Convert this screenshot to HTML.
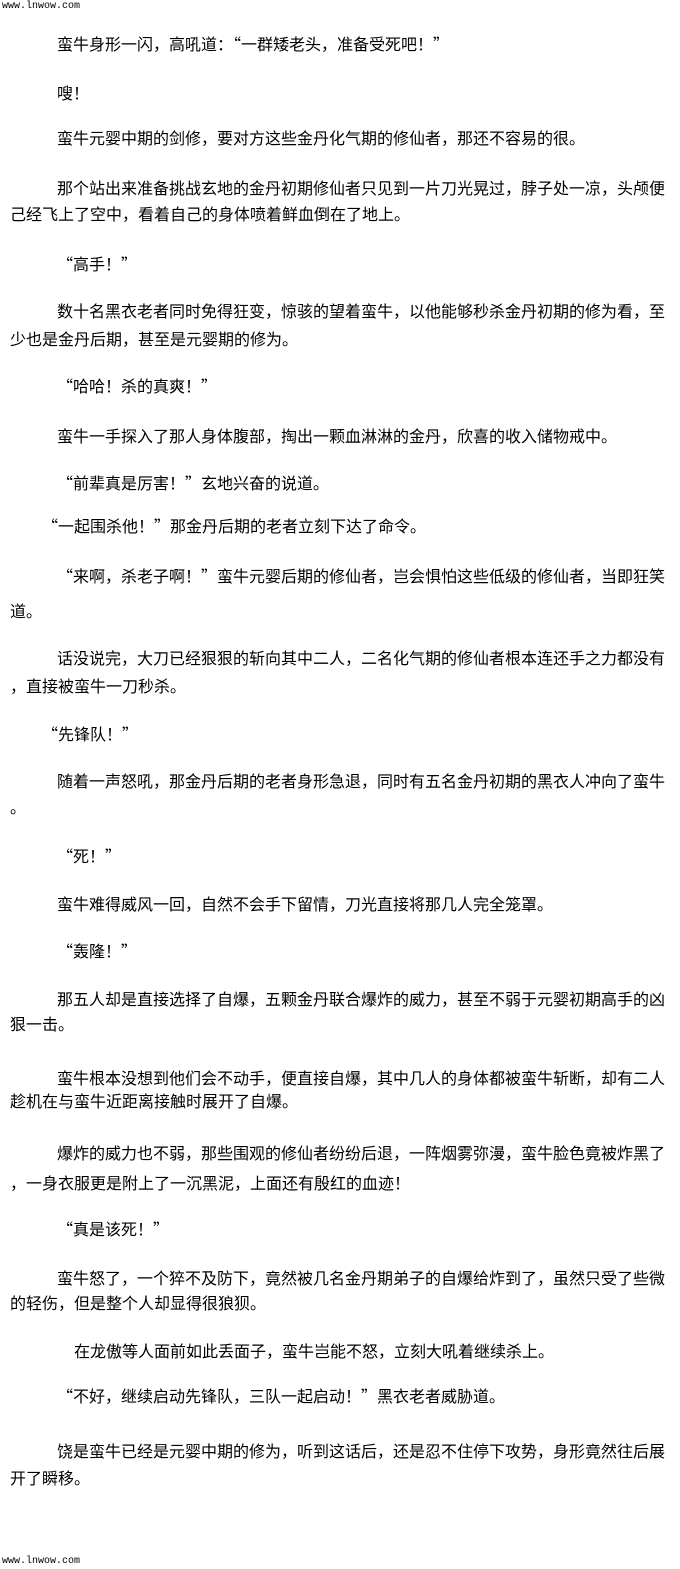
<!DOCTYPE html>
<html><head><meta charset="utf-8"><style>
html,body{margin:0;padding:0;background:#fff;width:680px;height:1569px;overflow:hidden}
body{position:relative;font-family:"Noto Sans CJK SC","WenQuanYi Zen Hei","Liberation Sans",sans-serif;font-size:16px;color:#000}
.l{position:absolute;white-space:nowrap;line-height:18px;height:18px}
.f{position:absolute;left:2px;font-family:"Liberation Mono",monospace;font-size:10px;color:#000;line-height:12px}
</style></head><body>
<div class="f" style="top:1px">www.lnwow.com</div>
<div class="l" style="top:34px;left:57px">蛮牛身形一闪，高吼道：“一群矮老头，准备受死吧！”</div>
<div class="l" style="top:83px;left:57px">嗖！</div>
<div class="l" style="top:128px;left:57px">蛮牛元婴中期的剑修，要对方这些金丹化气期的修仙者，那还不容易的很。</div>
<div class="l" style="top:178px;left:57px">那个站出来准备挑战玄地的金丹初期修仙者只见到一片刀光晃过，脖子处一凉，头颅便</div>
<div class="l" style="top:204px;left:10px">己经飞上了空中，看着自己的身体喷着鲜血倒在了地上。</div>
<div class="l" style="top:254px;left:57px">“高手！”</div>
<div class="l" style="top:301px;left:57px">数十名黑衣老者同时免得狂变，惊骇的望着蛮牛，以他能够秒杀金丹初期的修为看，至</div>
<div class="l" style="top:329px;left:10px">少也是金丹后期，甚至是元婴期的修为。</div>
<div class="l" style="top:376px;left:57px">“哈哈！杀的真爽！”</div>
<div class="l" style="top:426px;left:57px">蛮牛一手探入了那人身体腹部，掏出一颗血淋淋的金丹，欣喜的收入储物戒中。</div>
<div class="l" style="top:473px;left:57px">“前辈真是厉害！”玄地兴奋的说道。</div>
<div class="l" style="top:516px;left:42px">“一起围杀他！”那金丹后期的老者立刻下达了命令。</div>
<div class="l" style="top:566px;left:57px">“来啊，杀老子啊！”蛮牛元婴后期的修仙者，岂会惧怕这些低级的修仙者，当即狂笑</div>
<div class="l" style="top:601px;left:10px">道。</div>
<div class="l" style="top:648px;left:57px">话没说完，大刀已经狠狠的斩向其中二人，二名化气期的修仙者根本连还手之力都没有</div>
<div class="l" style="top:676px;left:10px">，直接被蛮牛一刀秒杀。</div>
<div class="l" style="top:724px;left:42px">“先锋队！”</div>
<div class="l" style="top:771px;left:57px">随着一声怒吼，那金丹后期的老者身形急退，同时有五名金丹初期的黑衣人冲向了蛮牛</div>
<div class="l" style="top:797px;left:10px">。</div>
<div class="l" style="top:846px;left:57px">“死！”</div>
<div class="l" style="top:894px;left:57px">蛮牛难得威风一回，自然不会手下留情，刀光直接将那几人完全笼罩。</div>
<div class="l" style="top:941px;left:57px">“轰隆！”</div>
<div class="l" style="top:989px;left:57px">那五人却是直接选择了自爆，五颗金丹联合爆炸的威力，甚至不弱于元婴初期高手的凶</div>
<div class="l" style="top:1014px;left:10px">狠一击。</div>
<div class="l" style="top:1068px;left:57px">蛮牛根本没想到他们会不动手，便直接自爆，其中几人的身体都被蛮牛斩断，却有二人</div>
<div class="l" style="top:1091px;left:10px">趁机在与蛮牛近距离接触时展开了自爆。</div>
<div class="l" style="top:1143px;left:57px">爆炸的威力也不弱，那些围观的修仙者纷纷后退，一阵烟雾弥漫，蛮牛脸色竟被炸黑了</div>
<div class="l" style="top:1173px;left:10px">，一身衣服更是附上了一沉黑泥，上面还有殷红的血迹！</div>
<div class="l" style="top:1219px;left:57px">“真是该死！”</div>
<div class="l" style="top:1268px;left:57px">蛮牛怒了，一个猝不及防下，竟然被几名金丹期弟子的自爆给炸到了，虽然只受了些微</div>
<div class="l" style="top:1293px;left:10px">的轻伤，但是整个人却显得很狼狈。</div>
<div class="l" style="top:1341px;left:74px">在龙傲等人面前如此丢面子，蛮牛岂能不怒，立刻大吼着继续杀上。</div>
<div class="l" style="top:1386px;left:57px">“不好，继续启动先锋队，三队一起启动！”黑衣老者威胁道。</div>
<div class="l" style="top:1441px;left:57px">饶是蛮牛已经是元婴中期的修为，听到这话后，还是忍不住停下攻势，身形竟然往后展</div>
<div class="l" style="top:1468px;left:10px">开了瞬移。</div>
<div class="f" style="top:1556px">www.lnwow.com</div>
</body></html>
